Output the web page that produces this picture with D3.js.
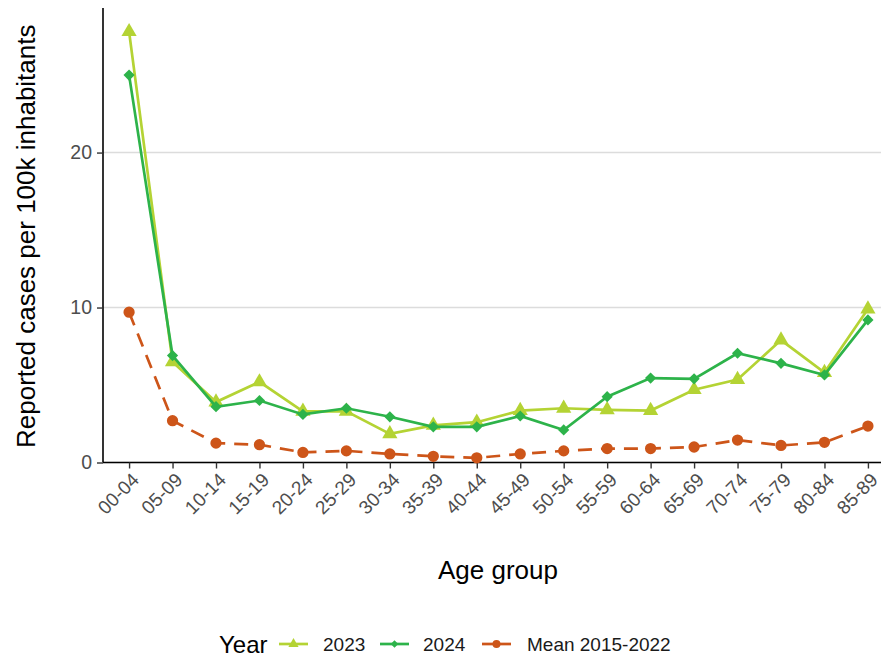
<!DOCTYPE html>
<html>
<head>
<meta charset="utf-8">
<script src="https://cdn.jsdelivr.net/npm/d3@7"></script>
<style>
  html, body { margin: 0; padding: 0; background: #fff; }
  svg { display: block; font-family: "Liberation Sans", Arial, sans-serif; }
</style>
</head>
<body>
<svg id="chart" width="881" height="657"></svg>
<script>
// Age groups on the x axis
const ageGroups = ["00-04","05-09","10-14","15-19","20-24","25-29","30-34","35-39","40-44",
                   "45-49","50-54","55-59","60-64","65-69","70-74","75-79","80-84","85-89"];

// Reported cases per 100k inhabitants, by year
const cases2023 = [27.8, 6.5, 3.9, 5.2, 3.3, 3.3, 1.85, 2.4, 2.6, 3.35, 3.5, 3.4, 3.35, 4.7, 5.35, 7.9, 5.8, 9.9];
const cases2024 = [25.0, 6.9, 3.6, 4.0, 3.1, 3.5, 2.95, 2.3, 2.3, 3.0, 2.1, 4.25, 5.45, 5.4, 7.05, 6.4, 5.65, 9.2];
const casesMean = [9.7, 2.7, 1.25, 1.15, 0.65, 0.75, 0.55, 0.4, 0.3, 0.55, 0.75, 0.9, 0.9, 1.0, 1.45, 1.1, 1.3, 2.35];

const yTicks = [0, 10, 20];

const seriesList = [
  { name: "2023", values: cases2023, color: "#b4d334", shape: "triangle", dash: null },
  { name: "2024", values: cases2024, color: "#2db34a", shape: "diamond", dash: null },
  { name: "Mean 2015-2022", values: casesMean, color: "#cd5519", shape: "circle", dash: "14,9" }
];

const svg = d3.select("#chart");
svg.append("rect").attr("width", 881).attr("height", 657).attr("fill", "#fff");

const panel = { left: 103, right: 894, top: 10, bottom: 462.5 };

const x = d3.scalePoint().domain(ageGroups).range([panel.left, panel.right]).padding(0.6);
const y = d3.scaleLinear().domain([0, 29.2]).range([panel.bottom, panel.top]);

// horizontal grid lines
svg.append("g")
  .selectAll("line")
  .data(yTicks)
  .join("line")
  .attr("x1", panel.left).attr("x2", 881)
  .attr("y1", d => y(d)).attr("y2", d => y(d))
  .attr("stroke", "#dcdcdc").attr("stroke-width", 1.4);

// y axis
const yAxis = svg.append("g")
  .attr("transform", `translate(${panel.left},0)`)
  .call(d3.axisLeft(y).tickValues(yTicks).tickSize(6).tickPadding(5).tickFormat(d3.format("d")));
yAxis.select(".domain").attr("d", `M0,${panel.bottom}V${panel.top - 2}`).attr("stroke", "#000").attr("stroke-width", 1.6);
yAxis.selectAll(".tick line").attr("stroke", "#333").attr("stroke-width", 1.4);
yAxis.selectAll(".tick text").attr("fill", "#4d4d4d").attr("font-size", 19.5).attr("font-family", "Liberation Sans, Arial, sans-serif");

// x axis
const xAxis = svg.append("g")
  .attr("transform", `translate(0,${panel.bottom})`)
  .call(d3.axisBottom(x).tickSize(6).tickPadding(4));
xAxis.select(".domain").attr("d", `M${panel.left},0H881`).attr("stroke", "#000").attr("stroke-width", 1.6);
xAxis.selectAll(".tick line").attr("stroke", "#333").attr("stroke-width", 1.4);
xAxis.selectAll(".tick text")
  .attr("fill", "#4d4d4d").attr("font-size", 19).attr("font-family", "Liberation Sans, Arial, sans-serif")
  .attr("text-anchor", "end")
  .attr("dy", null)
  .attr("y", 0)
  .attr("transform", "translate(1,9) rotate(-45)")
  .attr("dominant-baseline", "hanging");

// series lines and markers
const line = d3.line().x((d, i) => x(ageGroups[i])).y(d => y(d));

// a square turned on its corner, like a regular diamond
const squareDiamond = r => `M0,${-r}L${r},0L0,${r}L${-r},0Z`;

const symbolFor = {
  triangle: d3.symbol().type(d3.symbolTriangle).size(100),
  diamond: () => squareDiamond(5.6),
  circle: d3.symbol().type(d3.symbolCircle).size(100)
};

const drawOrder = [seriesList[2], seriesList[0], seriesList[1]];
drawOrder.forEach(s => {
  const g = svg.append("g");
  g.append("path")
    .attr("d", line(s.values))
    .attr("fill", "none")
    .attr("stroke", s.color)
    .attr("stroke-width", 2.7)
    .attr("stroke-dasharray", s.dash);
  g.selectAll("path.pt")
    .data(s.values)
    .join("path")
    .attr("class", "pt")
    .attr("d", symbolFor[s.shape])
    .attr("transform", (d, i) => `translate(${x(ageGroups[i])},${y(d)})`)
    .attr("fill", s.color);
});

// axis titles
svg.append("text")
  .attr("x", (panel.left + 881) / 2 + 6).attr("y", 579)
  .attr("text-anchor", "middle").attr("font-size", 26).attr("fill", "#000")
  .text("Age group");

svg.append("text")
  .attr("transform", `translate(35,${(panel.top + panel.bottom) / 2}) rotate(-90)`)
  .attr("text-anchor", "middle").attr("font-size", 26).attr("fill", "#000")
  .text("Reported cases per 100k inhabitants");

// legend
const legend = svg.append("g").attr("transform", "translate(0,644)");
legend.append("text").attr("x", 219).attr("y", 9).attr("font-size", 24).attr("fill", "#000").text("Year");

const legendKeys = [
  { s: seriesList[0], x0: 279, tx: 323 },
  { s: seriesList[1], x0: 380, tx: 423 },
  { s: seriesList[2], x0: 482, tx: 527 }
];
const keySymbol = {
  triangle: d3.symbol().type(d3.symbolTriangle).size(45),
  diamond: () => squareDiamond(3.8),
  circle: d3.symbol().type(d3.symbolCircle).size(50)
};
legendKeys.forEach(k => {
  legend.append("line")
    .attr("x1", k.x0).attr("x2", k.x0 + 29)
    .attr("y1", 0).attr("y2", 0)
    .attr("stroke", k.s.color).attr("stroke-width", 2.7);
  legend.append("path")
    .attr("d", keySymbol[k.s.shape])
    .attr("transform", `translate(${k.x0 + 14.5},0)`)
    .attr("fill", k.s.color);
  legend.append("text")
    .attr("x", k.tx).attr("y", 7)
    .attr("font-size", 19).attr("fill", "#1a1a1a")
    .text(k.s.name);
});
</script>
</body>
</html>
